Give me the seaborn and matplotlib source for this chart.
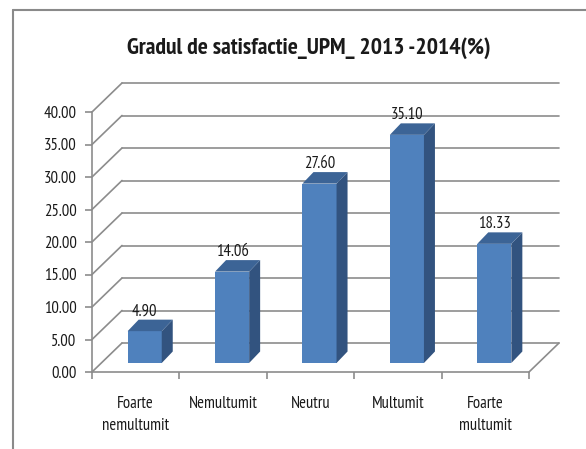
import matplotlib
matplotlib.use('Agg')
import matplotlib.pyplot as plt
import seaborn as sns
import pandas as pd
from matplotlib.patches import Polygon
from matplotlib.lines import Line2D

# Data
categories = ['Foarte\nnemultumit', 'Nemultumit', 'Neutru', 'Multumit', 'Foarte\nmultumit']
values = [4.90, 14.06, 27.60, 35.10, 18.33]
y_ticks = [0, 5, 10, 15, 20, 25, 30, 35, 40]
title = 'Gradul de satisfactie_UPM_ 2013 -2014(%)'

sns.set_style('white')
plt.rcParams['font.family'] = ['PT Sans Narrow', 'DejaVu Sans']

W, H = 586, 449
grid_col = '#8c8c8c'
text_col = '#1a1a1a'
fs = 12

fig = plt.figure(figsize=(W / 100, H / 100), dpi=100)
ax = fig.add_axes([92 / W, 1 - 372 / H, 437 / W, 260 / H])
ax.set_facecolor('none')

df = pd.DataFrame({'cat': categories, 'val': values})
sns.barplot(data=df, x='cat', y='val', color='#4f81bd', width=0.39,
            saturation=1, ax=ax, zorder=3)
ax.set_xlim(-0.5, len(categories) - 0.5)
ax.set_ylim(0, 40)

# pixel -> data units
px_x = len(categories) / 437
px_y = 40 / 260

# oblique offsets (pixels)
back_dx, back_dy = 30, 29
front_dx, front_dy = 9, 9
depth_dx, depth_dy = 11, 11.5

# back wall + left wall gridlines
xl, xr = -0.5, len(categories) - 0.5
for v in y_ticks:
    yb = v + back_dy * px_y
    ax.add_line(Line2D([xl + back_dx * px_x, xr + back_dx * px_x], [yb, yb],
                       color=grid_col, lw=1.2, clip_on=False, zorder=1))
    ax.add_line(Line2D([xl, xl + back_dx * px_x], [v, yb],
                       color=grid_col, lw=1.2, clip_on=False, zorder=1))
# floor right edge
ax.add_line(Line2D([xr, xr + back_dx * px_x], [0, back_dy * px_y],
                   color=grid_col, lw=1.2, clip_on=False, zorder=1))

# 3D bars built from the seaborn patches
for p, v in zip(ax.patches, values):
    x0 = p.get_x() + front_dx * px_x
    y0 = front_dy * px_y
    w = p.get_width()
    h = p.get_height()
    p.set_x(x0)
    p.set_y(y0)
    p.set_edgecolor('none')
    p.set_clip_on(False)
    ddx, ddy = depth_dx * px_x, depth_dy * px_y
    side = Polygon([(x0 + w, y0), (x0 + w + ddx, y0 + ddy),
                    (x0 + w + ddx, y0 + h + ddy), (x0 + w, y0 + h)],
                   closed=True, facecolor='#32537f', edgecolor='none',
                   zorder=3, clip_on=False)
    top = Polygon([(x0, y0 + h), (x0 + w, y0 + h),
                   (x0 + w + ddx, y0 + h + ddy), (x0 + ddx, y0 + h + ddy)],
                  closed=True, facecolor='#3c6496', edgecolor='none',
                  zorder=3, clip_on=False)
    ax.add_patch(side)
    ax.add_patch(top)
    ax.text(x0 + w / 2, y0 + h + ddy + 0.3 * px_y, f'{v:.2f}', ha='center',
            va='bottom', fontsize=fs, color=text_col, zorder=4)

# axes styling
for s in ['top', 'right']:
    ax.spines[s].set_visible(False)
for s in ['left', 'bottom']:
    ax.spines[s].set_color(grid_col)
    ax.spines[s].set_linewidth(1.2)
ax.set_yticks(y_ticks)
ax.set_yticklabels([f'{t:.2f}' for t in y_ticks])
ax.set_xticks(range(len(categories)))
ax.set_xticklabels(categories, linespacing=1.5)
ax.set_xticks([i - 0.5 for i in range(len(categories) + 1)], minor=True)
ax.tick_params(axis='y', left=True, direction='out', length=5, width=1.2,
               color=grid_col, pad=6, labelsize=fs, labelcolor=text_col)
ax.tick_params(axis='x', which='major', bottom=True, length=0, pad=17,
               labelsize=fs, labelcolor=text_col)
ax.tick_params(axis='x', which='minor', bottom=True, direction='out', length=5,
               width=1.2, color=grid_col)
ax.set_xlabel('')
ax.set_ylabel('')

fig.text(309 / W, 1 - 54 / H, title, ha='center', va='baseline', fontsize=17,
         fontweight='bold', color=text_col)

# chart frame
fig.add_artist(Line2D([13 / W, 13 / W], [0, 1 - 10 / H], transform=fig.transFigure,
                      color='#8a8a8a', lw=1.5))
fig.add_artist(Line2D([13 / W, 1], [1 - 10 / H, 1 - 10 / H], transform=fig.transFigure,
                      color='#8a8a8a', lw=1.5))

fig.savefig('out.png', dpi=100)
